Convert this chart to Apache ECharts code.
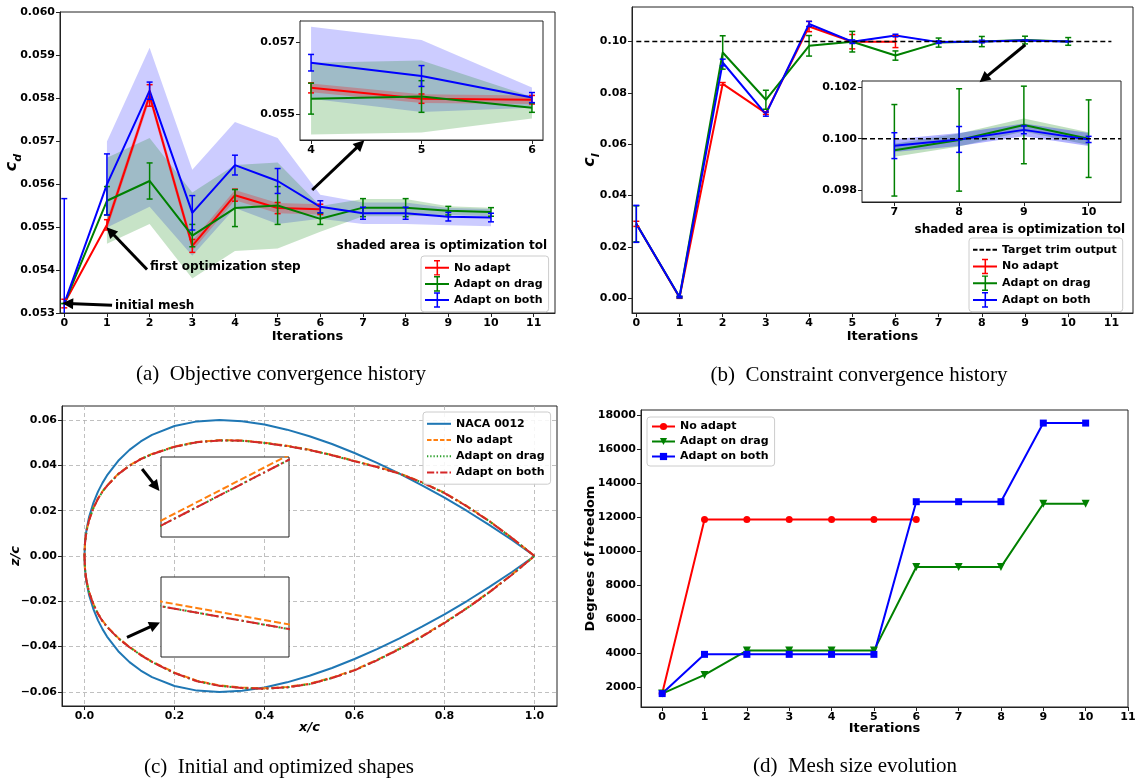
<!DOCTYPE html>
<html><head><meta charset="utf-8">
<script src="https://cdn.jsdelivr.net/npm/echarts@6/dist/echarts.min.js"></script>
<style>html,body{margin:0;padding:0;background:#fff}#c{width:1143px;height:778px}</style>
</head><body><div id="c"></div>
<script>
// ================= DATA =================
const iterations = [0,1,2,3,4,5,6,7,8,9,10];
const iterTicks  = [0,1,2,3,4,5,6,7,8,9,10,11];

// (a) objective c_d
const cdNoAdapt    = [0.05322,0.05505,0.05806,0.05456,0.05574,0.05544,0.05541];
const cdNoAdaptErr = [0.0001,0.00012,0.00025,0.00015,0.00014,0.00013,0.00012];
const cdNoAdaptTol = [null,0.00012,0.00012,0.00012,0.00012,0.00012,0.00012];
const cdDrag       = [0.05322,0.05561,0.05607,0.05480,0.05544,0.05550,0.05519,0.05545,0.05545,0.05538,0.05535];
const cdDragErr    = [0,0.00033,0.00042,0.00026,0.00043,0.00044,0.00013,0.00021,0.00021,0.0001,0.0001];
const cdDragTol    = [null,0.001,0.001,0.001,0.001,0.001,0.0003,0.0002,0.0002,0.0001,0.0001];
const cdBoth       = [0.05322,0.05599,0.05817,0.05533,0.05644,0.05607,0.05547,0.05532,0.05532,0.05524,0.05522];
const cdBothErr    = [0.00244,0.00071,0.0002,0.0004,0.00023,0.00029,0.00014,0.00014,0.00014,0.0001,0.0001];
const cdBothTolHi  = [null,0.001,0.001,0.001,0.001,0.001,0.00028,0.00025,0.00025,0.0002,0.0002];
const cdBothTolLo  = [null,0.001,0.0027,0.001,0.001,0.001,0.00028,0.00025,0.00025,0.0002,0.0002];
const cdTicks      = [0.053,0.054,0.055,0.056,0.057,0.058,0.059,0.060];
const cdInsetTicks = [0.055,0.057];
const cdInsetIter  = [4,5,6];

// (b) constraint c_l
const clNoAdapt    = [0.0290,0.0003,0.0835,0.0721,0.1058,0.0999,0.0999];
const clNoAdaptErr = [0.001,0.0003,0.0005,0.0005,0.002,0.0028,0.0023];
const clDrag       = [0.0290,0.0005,0.0957,0.0773,0.0983,0.0999,0.0945,0.09955,0.09995,0.10053,0.1000];
const clDragErr    = [0.007,0.0003,0.0065,0.0037,0.004,0.004,0.0018,0.00177,0.00198,0.0015,0.0015];
const clDragTol    = [0.00025,0.00025,0.00025,0.00025,0.00025,0.00025,0.00025,0.00025,0.00025,0.00025,0.00025];
const clBoth       = [0.0290,0.0005,0.0918,0.0717,0.1068,0.0999,0.1023,0.09973,0.09997,0.10034,0.09997];
const clBothErr    = [0.0072,0.0003,0.0013,0.0008,0.001,0.0007,0.0005,0.0005,0.0005,0.00015,0.00012];
const clBothTol    = [0.00025,0.00025,0.00025,0.00025,0.00025,0.00025,0.00025,0.00025,0.00025,0.00025,0.00025];
const clTarget     = 0.1;
const clTicks      = [0,0.02,0.04,0.06,0.08,0.10];
const clInsetTicks = [0.098,0.100,0.102];
const clInsetIter  = [7,8,9,10];

// (c) shapes
const xc = [0,0.001,0.0025,0.005,0.01,0.02,0.03,0.04,0.05,0.075,0.1,0.125,0.15,0.2,0.25,0.3,0.35,0.4,0.45,0.5,0.55,0.6,0.65,0.7,0.75,0.8,0.85,0.9,0.95,1.0];
const nacaUpper = [0,0.00556,0.00872,0.01221,0.01704,0.02360,0.02840,0.03228,0.03555,0.04200,0.04683,0.05055,0.05345,0.05737,0.05941,0.06001,0.05947,0.05800,0.05576,0.05286,0.04941,0.04547,0.04110,0.03634,0.03121,0.02572,0.01987,0.01365,0.00705,0];
const nacaLower = [0,-0.00556,-0.00872,-0.01221,-0.01704,-0.02360,-0.02840,-0.03228,-0.03555,-0.04200,-0.04683,-0.05055,-0.05345,-0.05737,-0.05941,-0.06001,-0.05947,-0.05800,-0.05576,-0.05286,-0.04941,-0.04547,-0.04110,-0.03634,-0.03121,-0.02572,-0.01987,-0.01365,-0.00705,0];
const noAdaptUpper = [0,0.00538,0.00835,0.01157,0.01580,0.02138,0.02543,0.02855,0.03108,0.03627,0.03995,0.04287,0.04505,0.04834,0.05035,0.05116,0.05099,0.05003,0.04866,0.04693,0.04462,0.04198,0.03940,0.03649,0.03260,0.02792,0.02200,0.01541,0.00798,0];
const noAdaptLower = [0,-0.00530,-0.00822,-0.01138,-0.01570,-0.02130,-0.02538,-0.02855,-0.03110,-0.03615,-0.04009,-0.04354,-0.04658,-0.05145,-0.05505,-0.05711,-0.05808,-0.05838,-0.05779,-0.05636,-0.05366,-0.05027,-0.04583,-0.04086,-0.03537,-0.02937,-0.02286,-0.01580,-0.00812,0];
const dragUpper = [0,0.00534,0.00828,0.01148,0.01567,0.02124,0.02528,0.02840,0.03093,0.03612,0.03980,0.04272,0.04490,0.04819,0.05020,0.05101,0.05084,0.04988,0.04851,0.04678,0.04447,0.04183,0.03925,0.03634,0.03245,0.02777,0.02186,0.01529,0.00790,0];
const dragLower = [0,-0.00534,-0.00828,-0.01148,-0.01584,-0.02147,-0.02556,-0.02873,-0.03128,-0.03633,-0.04027,-0.04373,-0.04677,-0.05164,-0.05525,-0.05731,-0.05828,-0.05858,-0.05799,-0.05656,-0.05386,-0.05047,-0.04603,-0.04106,-0.03557,-0.02957,-0.02305,-0.01597,-0.00825,0];
const bothUpper = [0,0.00534,0.00828,0.01148,0.01567,0.02124,0.02528,0.02840,0.03093,0.03612,0.03980,0.04272,0.04490,0.04819,0.05020,0.05101,0.05084,0.04988,0.04851,0.04678,0.04447,0.04183,0.03925,0.03634,0.03245,0.02777,0.02186,0.01529,0.00790,0];
const bothLower = [0,-0.00534,-0.00828,-0.01148,-0.01584,-0.02147,-0.02556,-0.02873,-0.03128,-0.03633,-0.04027,-0.04373,-0.04677,-0.05164,-0.05525,-0.05731,-0.05828,-0.05858,-0.05799,-0.05656,-0.05386,-0.05047,-0.04603,-0.04106,-0.03557,-0.02957,-0.02305,-0.01597,-0.00825,0];
const xcTicks = [0,0.2,0.4,0.6,0.8,1.0];
const zcTicks = [-0.06,-0.04,-0.02,0,0.02,0.04,0.06];

// (d) mesh size
const dofNoAdapt = [1600,11850,11850,11850,11850,11850,11850];
const dofDrag    = [1600,2700,4130,4130,4130,4130,9050,9050,9050,12780,12780];
const dofBoth    = [1600,3910,3910,3910,3910,3910,12900,12900,12900,17530,17530];
const dofTicks   = [2000,4000,6000,8000,10000,12000,14000,16000,18000];

// ================= STYLE / HELPERS =================
const FONT = 'DejaVu Sans';
const RED='#ff0000', GREEN='#008000', BLUE='#0000ff';
const TAB_BLUE='#1f77b4', TAB_ORANGE='#ff7f0e', TAB_GREEN='#2ca02c', TAB_RED='#d62728';
const TL = {fontFamily:FONT, fontWeight:'bold', fontSize:11, color:'#000'};
const NT = {fontFamily:FONT, fontWeight:'bold', fontSize:13, color:'#000'};
const SP = (a, s, e) => a.slice(s, e);

function axis(gi, min, max, ticks, fmt, extra) {
  return Object.assign({
    type:'value', gridIndex:gi, min:min, max:max, scale:true,
    nameMoveOverlap:false,
    axisLine:{show:true, onZero:false, lineStyle:{color:'#222', width:1}},
    axisTick:{show:true, length:4, customValues:ticks, lineStyle:{color:'#222', width:1}},
    axisLabel:Object.assign({show:true, customValues:ticks, formatter:fmt, margin:5}, TL),
    splitLine:{show:false}
  }, extra || {});
}
function hiddenAxis(gi, min, max) {
  return {type:'value', gridIndex:gi, min:min, max:max, scale:true, show:false,
    axisLine:{show:false, onZero:false}, axisTick:{show:false}, axisLabel:{show:false}, splitLine:{show:false}};
}
function lineS(name, xs, ys, color, ai, extra) {
  return Object.assign({type:'line', name:name, xAxisIndex:ai, yAxisIndex:ai,
    data: xs.map((x,i)=>[x, ys[i]]), symbol:'none', silent:true,
    lineStyle:{color:color, width:2}, itemStyle:{color:color}, z:3}, extra || {});
}
function errS(xs, ys, es, color, ai) {
  return {type:'custom', xAxisIndex:ai, yAxisIndex:ai, silent:true, z:4,
    data: xs.map((x,i)=>[x, ys[i], es[i]]), encode:{x:0, y:1},
    renderItem: function(params, api) {
      const x=api.value(0), y=api.value(1), e=api.value(2);
      const a=api.coord([x, y+e]), b=api.coord([x, y-e]);
      const cs=params.coordSys, t=cs.y, bt=cs.y+cs.height;
      const st={stroke:color, lineWidth:1.5};
      const ch=[{type:'line', shape:{x1:a[0], y1:Math.max(a[1],t), x2:b[0], y2:Math.min(b[1],bt)}, style:st}];
      if (a[1] >= t-0.5) ch.push({type:'line', shape:{x1:a[0]-3, y1:a[1], x2:a[0]+3, y2:a[1]}, style:st});
      if (b[1] <= bt+0.5) ch.push({type:'line', shape:{x1:b[0]-3, y1:b[1], x2:b[0]+3, y2:b[1]}, style:st});
      return {type:'group', children:ch};
    }};
}
// band between ys - tolLo and ys + tolHi
function bandS(xs, ys, tolLo, tolHi, fill, ai) {
  const idx = xs.map((x,i)=>i).filter(i => tolHi[i] != null);
  const bx = idx.map(i=>xs[i]), lo = idx.map(i=>ys[i]-tolLo[i]), hi = idx.map(i=>ys[i]+tolHi[i]);
  return {type:'custom', xAxisIndex:ai, yAxisIndex:ai, silent:true, z:1,
    data: bx.map((x,i)=>[x, lo[i], hi[i]]), encode:{x:0, y:[1,2]},
    renderItem: function(params, api) {
      if (params.dataIndex !== 0) return null;
      const up=[], dn=[];
      for (let i=0;i<bx.length;i++) { up.push(api.coord([bx[i], hi[i]])); dn.push(api.coord([bx[i], lo[i]])); }
      return {type:'polygon', shape:{points: up.concat(dn.reverse())}, style:{fill:fill}};
    }};
}
function loop(xs, up, lo) {
  const pts = [];
  for (let i=xs.length-1;i>=0;i--) pts.push([xs[i], up[i]]);
  for (let i=1;i<xs.length;i++) pts.push([xs[i], lo[i]]);
  return pts;
}
function shapeS(name, up, lo, color, type, ai, z) {
  return {type:'line', name:name, xAxisIndex:ai, yAxisIndex:ai, data: loop(xc, up, lo), symbol:'none', silent:true,
    lineStyle:{color:color, width:2, type:type}, itemStyle:{color:color}, z:z};
}
function arrow(from, to) { return [{coord:from},{coord:to}]; }
const ARROW = {silent:true, symbol:['none','triangle'], symbolSize:11, label:{show:false},
  lineStyle:{color:'#000', width:3, type:'solid'}, emphasis:{disabled:true}, animation:false};

// legend icons share a 40x26 frame so every row has the same height
const FRAME = 'M0,0L0,0 M40,26L40,26 ';
const EB = 'path://' + FRAME + 'M0,11.3h40v3.4h-40z M19.2,0.5h2.6v25h-2.6z M15,0h10v2.4h-10z M15,23.6h10v2.4h-10z';
const SOLID = 'path://' + FRAME + 'M0,11.3h40v3.4h-40z';
const DASH = 'path://' + FRAME + 'M0,11.3h7.5v3.4h-7.5z M10.8,11.3h7.5v3.4h-7.5z M21.7,11.3h7.5v3.4h-7.5z M32.5,11.3h7.5v3.4h-7.5z';
const DOT = 'path://' + FRAME + 'M0,11.3h2.2v3.4h-2.2z M5.4,11.3h2.2v3.4h-2.2z M10.8,11.3h2.2v3.4h-2.2z M16.2,11.3h2.2v3.4h-2.2z M21.6,11.3h2.2v3.4h-2.2z M27,11.3h2.2v3.4h-2.2z M32.4,11.3h2.2v3.4h-2.2z M37.8,11.3h2.2v3.4h-2.2z';
const DASHDOT = 'path://' + FRAME + 'M0,11.3h12v3.4h-12z M15.5,11.3h3v3.4h-3z M22,11.3h12v3.4h-12z M37.5,11.3h2.5v3.4h-2.5z';

function legend(left, top, items, iw, ih, gap) {
  return {left:left, top:top, orient:'vertical', itemWidth:iw, itemHeight:ih, itemGap:gap,
    selectedMode:false, data:items, formatter: n => n.split('|')[1],
    textStyle:Object.assign({}, TL), padding:[4,6,4,4],
    backgroundColor:'rgba(255,255,255,0.85)', borderColor:'#ccc', borderWidth:1, borderRadius:3,
    itemStyle:{borderWidth:0}};
}
const f3 = v => v.toFixed(3), f2 = v => v.toFixed(2), f1 = v => v.toFixed(1), f0 = v => String(Math.round(v));
const fm = v => (v < -1e-9 ? '\u2212' : '') + Math.abs(v).toFixed(2);
const cdName = {rich:{c:{fontFamily:FONT, fontStyle:'italic', fontWeight:'bold', fontSize:16, color:'#000', verticalAlign:'bottom', padding:[0,0,4,0]},
                      s:{fontFamily:FONT, fontStyle:'italic', fontWeight:'bold', fontSize:11, color:'#000', verticalAlign:'bottom'}}};
const gridBox = {show:true, borderColor:'#222', borderWidth:1, backgroundColor:'transparent', outerBoundsMode:'none', containLabel:false};
const insetBox = Object.assign({}, gridBox, {backgroundColor:'#fff', z:1});

const grids = [
  Object.assign({left:60,  top:12,  width:495, height:301}, gridBox),
  Object.assign({left:300, top:21,  width:243, height:119}, insetBox),
  Object.assign({left:632, top:7,   width:501, height:306}, gridBox),
  Object.assign({left:862, top:81,  width:259, height:121}, insetBox),
  Object.assign({left:62,  top:406, width:495, height:300}, gridBox),
  Object.assign({left:161, top:457, width:128, height:80},  insetBox),
  Object.assign({left:161, top:577, width:128, height:80},  insetBox),
  Object.assign({left:641, top:410, width:487, height:297}, gridBox)
];

const xAxes = [
  axis(0, -0.1, 11.5, iterTicks, f0, {name:'Iterations', nameLocation:'middle', nameGap:17, nameTextStyle:NT}),
  axis(1, 3.9, 6.1, cdInsetIter, f0),
  axis(2, -0.1, 11.5, iterTicks, f0, {name:'Iterations', nameLocation:'middle', nameGap:17, nameTextStyle:NT}),
  axis(3, 6.5, 10.5, clInsetIter, f0),
  axis(4, -0.05, 1.05, xcTicks, f1, {name:'{c|x/c}', nameLocation:'middle', nameGap:15, splitNumber:5,
    nameTextStyle:{rich:{c:{fontFamily:FONT, fontStyle:'italic', fontWeight:'bold', fontSize:13, color:'#000'}}},
    splitLine:{show:true, lineStyle:{color:'#b0b0b0', width:0.8, type:[4,3]}}}),
  hiddenAxis(5, 0.2, 0.25),
  hiddenAxis(6, 0.3, 0.35),
  axis(7, -0.5, 11, iterTicks, f0, {name:'Iterations', nameLocation:'middle', nameGap:15, nameTextStyle:NT})
];
const yAxes = [
  axis(0, 0.053, 0.060, cdTicks, f3, {name:'{c|c}{s|d}', nameLocation:'middle', nameGap:36, nameTextStyle:cdName}),
  axis(1, 0.05429, 0.0576, cdInsetTicks, f3),
  axis(2, -0.0057, 0.1134, clTicks, f2, {name:'{c|c}{s|l}', nameLocation:'middle', nameGap:30, nameTextStyle:cdName}),
  axis(3, 0.09755, 0.10223, clInsetTicks, f3),
  axis(4, -0.0662, 0.0662, zcTicks, fm, {name:'{c|z/c}', nameLocation:'middle', nameGap:40, splitNumber:7,
    nameTextStyle:{rich:{c:{fontFamily:FONT, fontStyle:'italic', fontWeight:'bold', fontSize:13, color:'#000'}}},
    splitLine:{show:true, lineStyle:{color:'#b0b0b0', width:0.8, type:[4,3]}}}),
  hiddenAxis(5, 0.047841, 0.050283),
  hiddenAxis(6, -0.059466, -0.056066),
  axis(7, 810, 18300, dofTicks, f0, {name:'Degrees of freedom', nameLocation:'middle', nameGap:44, nameTextStyle:NT})
];

const itA = iterations, itA6 = SP(iterations,0,7);
const series = [];
// ---- (a) main ----
series.push(bandS(itA, cdBoth, cdBothTolLo, cdBothTolHi, 'rgba(0,0,255,0.2)', 0));
series.push(bandS(itA, cdDrag, cdDragTol, cdDragTol, 'rgba(0,128,0,0.22)', 0));
series.push(bandS(itA6, cdNoAdapt, cdNoAdaptTol, cdNoAdaptTol, 'rgba(255,0,0,0.25)', 0));
series.push(lineS('a|No adapt', itA6, cdNoAdapt, RED, 0));
series.push(lineS('a|Adapt on drag', itA, cdDrag, GREEN, 0));
series.push(lineS('a|Adapt on both', itA, cdBoth, BLUE, 0, {markLine:Object.assign({data:[
  arrow([1.12,0.05318],[0.08,0.05322]),
  arrow([1.94,0.05401],[1.08,0.05490]),
  arrow([5.81,0.055861],[6.94,0.056927])
]}, ARROW)}));
series.push(errS(itA6, cdNoAdapt, cdNoAdaptErr, RED, 0));
series.push(errS(itA, cdDrag, cdDragErr, GREEN, 0));
series.push(errS(itA, cdBoth, cdBothErr, BLUE, 0));
// ---- (a) inset ----
const sa = a => SP(a,4,7);
series.push(bandS(cdInsetIter, sa(cdBoth), sa(cdBothTolLo), sa(cdBothTolHi), 'rgba(0,0,255,0.2)', 1));
series.push(bandS(cdInsetIter, sa(cdDrag), sa(cdDragTol), sa(cdDragTol), 'rgba(0,128,0,0.22)', 1));
series.push(bandS(cdInsetIter, sa(cdNoAdapt), sa(cdNoAdaptTol), sa(cdNoAdaptTol), 'rgba(255,0,0,0.25)', 1));
series.push(lineS('', cdInsetIter, sa(cdNoAdapt), RED, 1, {z:5}));
series.push(lineS('', cdInsetIter, sa(cdDrag), GREEN, 1, {z:5}));
series.push(lineS('', cdInsetIter, sa(cdBoth), BLUE, 1, {z:5}));
series.push(Object.assign(errS(cdInsetIter, sa(cdNoAdapt), sa(cdNoAdaptErr), RED, 1), {z:6}));
series.push(Object.assign(errS(cdInsetIter, sa(cdDrag), sa(cdDragErr), GREEN, 1), {z:6}));
series.push(Object.assign(errS(cdInsetIter, sa(cdBoth), sa(cdBothErr), BLUE, 1), {z:6}));
// ---- (b) main ----
series.push(lineS('b|Target trim output', [0,11], [clTarget, clTarget], '#000', 2, {lineStyle:{color:'#000', width:1.5, type:[5,3]}, z:6}));
series.push(bandS(itA, clDrag, clDragTol, clDragTol, 'rgba(0,128,0,0.25)', 2));
series.push(bandS(itA, clBoth, clBothTol, clBothTol, 'rgba(0,0,255,0.25)', 2));
series.push(lineS('b|No adapt', itA6, clNoAdapt, RED, 2));
series.push(lineS('b|Adapt on drag', itA, clDrag, GREEN, 2));
series.push(lineS('b|Adapt on both', itA, clBoth, BLUE, 2, {markLine:Object.assign({data:[
  arrow([9.007,0.09871],[8.046,0.08546])
]}, ARROW)}));
series.push(errS(itA6, clNoAdapt, clNoAdaptErr, RED, 2));
series.push(errS(itA, clDrag, clDragErr, GREEN, 2));
series.push(errS(itA, clBoth, clBothErr, BLUE, 2));
// ---- (b) inset ----
const sb = a => SP(a,7,11);
series.push(bandS(clInsetIter, sb(clDrag), sb(clDragTol), sb(clDragTol), 'rgba(0,128,0,0.25)', 3));
series.push(bandS(clInsetIter, sb(clBoth), sb(clBothTol), sb(clBothTol), 'rgba(0,0,255,0.3)', 3));
series.push(lineS('', [6.5,10.5], [clTarget, clTarget], '#000', 3, {lineStyle:{color:'#000', width:1.5, type:[5,3]}, z:7}));
series.push(lineS('', clInsetIter, sb(clDrag), GREEN, 3, {z:5}));
series.push(lineS('', clInsetIter, sb(clBoth), BLUE, 3, {z:5}));
series.push(Object.assign(errS(clInsetIter, sb(clDrag), sb(clDragErr), GREEN, 3), {z:6}));
series.push(Object.assign(errS(clInsetIter, sb(clBoth), sb(clBothErr), BLUE, 3), {z:6}));
// ---- (c) ----
const DASHED=[7,3], DOTTED=[2,3.3], DASHDOTTED=[12,3,2,3];
series.push(shapeS('c|NACA 0012', nacaUpper, nacaLower, TAB_BLUE, 'solid', 4, 3));
series.push(shapeS('c|No adapt', noAdaptUpper, noAdaptLower, TAB_ORANGE, DASHED, 4, 3));
series.push(shapeS('c|Adapt on drag', dragUpper, dragLower, TAB_GREEN, DOTTED, 4, 3));
series.push(Object.assign(shapeS('c|Adapt on both', bothUpper, bothLower, TAB_RED, DASHDOTTED, 4, 3), {markLine:Object.assign({data:[
  arrow([0.128,0.0384],[0.159,0.0306]),
  arrow([0.0944,-0.0359],[0.1566,-0.0303])
]}, ARROW)}));
[5,6].forEach(ai => {
  series.push(shapeS('', noAdaptUpper, noAdaptLower, TAB_ORANGE, DASHED, ai, 5));
  series.push(shapeS('', dragUpper, dragLower, TAB_GREEN, DOTTED, ai, 5));
  series.push(shapeS('', bothUpper, bothLower, TAB_RED, DASHDOTTED, ai, 5));
});
// ---- (d) ----
series.push(lineS('d|No adapt', itA6, dofNoAdapt, RED, 7, {symbol:'circle', symbolSize:7, showSymbol:true}));
series.push(lineS('d|Adapt on drag', itA, dofDrag, GREEN, 7, {symbol:'triangle', symbolSize:8, symbolRotate:180, showSymbol:true}));
series.push(lineS('d|Adapt on both', itA, dofBoth, BLUE, 7, {symbol:'rect', symbolSize:7, showSymbol:true}));

const legends = [
  legend(421, 256, [{name:'a|No adapt', icon:EB},{name:'a|Adapt on drag', icon:EB},{name:'a|Adapt on both', icon:EB}], 24, 15.6, 0.5),
  legend(969, 238, [{name:'b|Target trim output', icon:DASH},{name:'b|No adapt', icon:EB},{name:'b|Adapt on drag', icon:EB},{name:'b|Adapt on both', icon:EB}], 24, 15.6, 1.1),
  legend(423, 412, [{name:'c|NACA 0012', icon:SOLID},{name:'c|No adapt', icon:DASH},{name:'c|Adapt on drag', icon:DOT},{name:'c|Adapt on both', icon:DASHDOT}], 24, 15.6, 0.6),
  legend(647, 417, [{name:'d|No adapt'},{name:'d|Adapt on drag'},{name:'d|Adapt on both'}], 23, 9, 4)
];

function txt(x, y, s, align, font) {
  return {type:'text', silent:true, z:10, style:{x:x, y:y, text:s, textAlign:align, textVerticalAlign:'middle', font:font, fill:'#000'}};
}
const CAP = '21px "Liberation Serif"', ANN = 'bold 12px "DejaVu Sans"';
const graphics = [
  txt(281, 374, '(a)  Objective convergence history', 'center', CAP),
  txt(859, 375, '(b)  Constraint convergence history', 'center', CAP),
  txt(279, 767, '(c)  Initial and optimized shapes', 'center', CAP),
  txt(855, 766, '(d)  Mesh size evolution', 'center', CAP),
  txt(115, 306, 'initial mesh', 'left', ANN),
  txt(150, 267, 'first optimization step', 'left', ANN),
  txt(547, 246, 'shaded area is optimization tol', 'right', ANN),
  txt(1125, 230, 'shaded area is optimization tol', 'right', ANN)
];

const chart = echarts.init(document.getElementById('c'), null, {renderer:'canvas'});
chart.setOption({
  animation:false,
  backgroundColor:'#fff',
  textStyle:{fontFamily:FONT},
  grid:grids, xAxis:xAxes, yAxis:yAxes,
  legend:legends, series:series, graphic:graphics
});
</script></body></html>
